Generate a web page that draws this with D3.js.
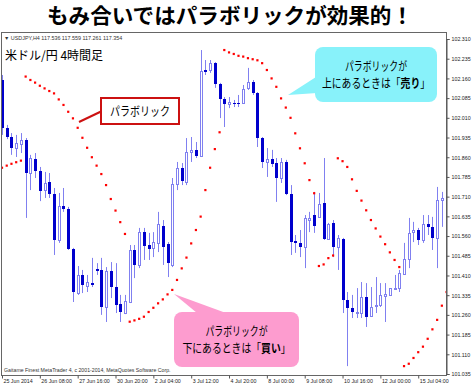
<!DOCTYPE html>
<html>
<head>
<meta charset="utf-8">
<script src="https://cdn.jsdelivr.net/npm/d3@7"></script>
<style>
  body { margin: 0; background: #fff; }
  svg { display: block; }
  .jp { font-family: "Noto Sans CJK JP", sans-serif; }
  .tick text { font-family: "Liberation Sans", Arial, sans-serif; font-size: 5.3px; fill: #222; }
  .tick line { stroke: #555; }
</style>
</head>
<body>
<svg id="chart" width="475" height="386"></svg>
<script>
// USDJPY H4 candles (one value per bar)
const open = [102.154, 101.971, 101.937, 101.895, 101.910, 101.926, 101.800, 101.853, 101.808, 101.735,
  101.766, 101.720, 101.545, 101.674, 101.663, 101.511, 101.343, 101.412, 101.370, 101.381,
  101.435, 101.431, 101.290, 101.427, 101.366, 101.301, 101.267, 101.309, 101.507, 101.450,
  101.575, 101.526, 101.515, 101.534, 101.598, 101.530, 101.450, 101.758, 101.819, 101.766,
  101.880, 101.888, 101.865, 102.192, 102.192, 102.219, 102.139, 102.082, 102.063, 102.066,
  102.066, 102.066, 102.124, 102.146, 102.104, 101.933, 101.842, 101.853, 101.838, 101.781,
  101.842, 101.720, 101.541, 101.534, 101.518, 101.621, 101.640, 101.633, 101.686, 101.549,
  101.610, 101.518, 101.549, 101.317, 101.286, 101.267, 101.267, 101.328, 101.256, 101.294,
  101.298, 101.332, 101.336, 101.359, 101.362, 101.416, 101.473, 101.575, 101.583, 101.545,
  101.606, 101.595, 101.553, 101.697, 101.701];
const high = [102.173, 101.983, 101.952, 101.945, 101.952, 101.933, 101.869, 101.876, 101.823, 101.804,
  101.800, 101.743, 101.724, 101.743, 101.671, 101.515, 101.446, 101.431, 101.412, 101.477,
  101.457, 101.477, 101.442, 101.461, 101.457, 101.336, 101.336, 101.526, 101.526, 101.591,
  101.591, 101.572, 101.575, 101.652, 101.621, 101.537, 101.781, 101.842, 101.838, 101.933,
  101.937, 101.918, 102.268, 102.230, 102.230, 102.222, 102.143, 102.089, 102.089, 102.078,
  102.097, 102.135, 102.200, 102.154, 102.108, 101.937, 101.895, 101.888, 101.857, 101.857,
  101.850, 101.754, 101.564, 101.583, 101.640, 101.652, 101.728, 101.724, 101.857, 101.610,
  101.621, 101.564, 101.553, 101.347, 101.336, 101.362, 101.385, 101.381, 101.366, 101.404,
  101.381, 101.381, 101.362, 101.412, 101.431, 101.534, 101.629, 101.614, 101.591, 101.640,
  101.640, 101.633, 101.747, 101.728, 101.709];
const low = [101.945, 101.929, 101.869, 101.861, 101.876, 101.629, 101.735, 101.781, 101.693, 101.705,
  101.705, 101.488, 101.534, 101.652, 101.507, 101.309, 101.336, 101.343, 101.347, 101.366,
  101.412, 101.260, 101.233, 101.324, 101.267, 101.233, 101.263, 101.305, 101.400, 101.438,
  101.469, 101.469, 101.480, 101.499, 101.450, 101.404, 101.442, 101.735, 101.754, 101.754,
  101.842, 101.857, 101.861, 102.173, 102.181, 102.124, 102.009, 101.975, 102.047, 102.051,
  102.051, 102.063, 102.116, 102.097, 101.899, 101.819, 101.785, 101.823, 101.690, 101.762,
  101.716, 101.488, 101.496, 101.480, 101.438, 101.575, 101.572, 101.629, 101.545, 101.545,
  101.480, 101.431, 101.267, 101.065, 101.248, 101.248, 101.248, 101.214, 101.252, 101.267,
  101.290, 101.233, 101.332, 101.355, 101.347, 101.412, 101.438, 101.537, 101.526, 101.534,
  101.564, 101.507, 101.438, 101.595, 101.652];
const close = [101.971, 101.937, 101.895, 101.914, 101.926, 101.800, 101.857, 101.808, 101.732, 101.762,
  101.720, 101.545, 101.674, 101.663, 101.511, 101.347, 101.412, 101.374, 101.385, 101.374,
  101.427, 101.290, 101.427, 101.366, 101.298, 101.271, 101.313, 101.507, 101.450, 101.575,
  101.522, 101.511, 101.537, 101.606, 101.518, 101.457, 101.758, 101.819, 101.770, 101.880,
  101.888, 101.865, 102.188, 102.184, 102.219, 102.139, 102.082, 102.063, 102.070, 102.063,
  102.063, 102.120, 102.146, 102.104, 101.933, 101.842, 101.853, 101.834, 101.781, 101.842,
  101.720, 101.537, 101.534, 101.518, 101.629, 101.629, 101.598, 101.682, 101.549, 101.606,
  101.518, 101.553, 101.317, 101.286, 101.271, 101.271, 101.328, 101.252, 101.290, 101.298,
  101.336, 101.340, 101.362, 101.362, 101.419, 101.473, 101.572, 101.583, 101.545, 101.606,
  101.595, 101.553, 101.697, 101.705, 101.663];
// Parabolic SAR, one dot per bar
const sar = [101.820, 101.828, 101.835, 101.841, 101.847, 102.167, 102.154, 102.144, 102.132, 102.122,
  102.112, 102.103, 102.080, 102.059, 102.033, 102.008, 101.972, 101.934, 101.896, 101.860,
  101.828, 101.796, 101.754, 101.701, 101.657, 101.613, 101.568, 101.234, 101.239, 101.245,
  101.253, 101.271, 101.287, 101.304, 101.319, 101.338, 101.355, 101.393, 101.437, 101.478,
  101.532, 101.583, 101.634, 101.735, 101.820, 101.891, 101.955, 102.268, 102.259, 102.253,
  102.246, 102.243, 102.237, 102.233, 102.229, 102.218, 102.192, 102.160, 102.128, 102.084,
  102.049, 102.010, 101.951, 101.894, 101.837, 101.773, 101.723, 101.446, 101.452, 101.476,
  101.486, 101.856, 101.845, 101.823, 101.776, 101.732, 101.695, 101.658, 101.621, 101.589,
  101.558, 101.529, 101.498, 101.469, 101.442, 101.065, 101.074, 101.096, 101.118, 101.139,
  101.169, 101.205, 101.241, 101.295, 101.347];

const priceTicks = [102.310, 102.235, 102.160, 102.085, 102.010, 101.935, 101.860, 101.785, 101.710,
  101.635, 101.560, 101.485, 101.410, 101.335, 101.260, 101.185, 101.110, 101.035];
const dateTickBars = [0, 8, 16, 24, 32, 40, 48, 56, 64, 72, 80, 88];
const dateTicks = ['25 Jun 2014', '26 Jun 08:00', '27 Jun 16:00', '30 Jun 20:00', '2 Jul 04:00', '3 Jul 12:00',
  '4 Jul 20:00', '8 Jul 00:00', '9 Jul 08:00', '10 Jul 16:00', '12 Jul 00:00', '15 Jul 04:00'];

const plotLeft = 1.5, plotRight = 446.5, plotTop = 32.5, plotBottom = 375.5;
const wickColor = '#8080f0';
const bearColor = '#0000cc';

const svg = d3.select('#chart');

const bars = d3.range(open.length);
const x = d3.scalePoint()
  .domain(bars)
  .range([2, 446.6]);

const y = d3.scaleLinear()
  .domain([101.035, 102.310])
  .range([374, 39]);

// title
svg.append('text')
  .attr('class', 'jp')
  .attr('x', 47).attr('y', 22.5)
  .attr('textLength', 366)
  .attr('lengthAdjust', 'spacingAndGlyphs')
  .style('font-size', '21px')
  .style('font-weight', 'bold')
  .text('もみ合いではパラボリックが効果的！');

// frame
svg.append('rect')
  .attr('x', plotLeft).attr('y', plotTop)
  .attr('width', plotRight - plotLeft).attr('height', plotBottom - plotTop)
  .attr('fill', '#fff')
  .attr('stroke', '#666');

svg.append('defs').append('clipPath').attr('id', 'plot')
  .append('rect')
  .attr('x', plotLeft + 0.5).attr('y', plotTop + 0.5)
  .attr('width', plotRight - plotLeft - 1).attr('height', plotBottom - plotTop - 1);

const plot = svg.append('g').attr('clip-path', 'url(#plot)');

// wicks
plot.append('g')
  .selectAll('line')
  .data(bars)
  .enter()
  .append('line')
  .attr('x1', (i) => Math.round(x(i)) + 0.5)
  .attr('x2', (i) => Math.round(x(i)) + 0.5)
  .attr('y1', (i) => y(high[i]))
  .attr('y2', (i) => y(low[i]))
  .attr('stroke', wickColor)
  .attr('stroke-width', 1);

// bodies
plot.append('g')
  .selectAll('rect')
  .data(bars)
  .enter()
  .append('rect')
  .attr('x', (i) => close[i] >= open[i] ? Math.round(x(i)) - 0.5 : Math.round(x(i)) - 1)
  .attr('width', (i) => close[i] >= open[i] ? 2 : 3)
  .attr('y', (i) => {
    const t = y(Math.max(open[i], close[i]));
    return close[i] >= open[i] ? Math.round(t) + 0.5 : Math.round(t);
  })
  .attr('height', (i) => Math.max(1, Math.round(Math.abs(y(open[i]) - y(close[i])))))
  .attr('fill', (i) => close[i] >= open[i] ? '#fff' : bearColor)
  .attr('stroke', (i) => close[i] >= open[i] ? wickColor : 'none')
  .attr('stroke-width', 1);

// parabolic SAR dots
plot.append('g')
  .selectAll('rect')
  .data(bars)
  .enter()
  .append('rect')
  .attr('x', (i) => x(i) - 1.1)
  .attr('y', (i) => y(sar[i]) - 1.1)
  .attr('width', 2.2)
  .attr('height', 2.2)
  .attr('fill', '#ff0000');

// axes
const rightAxis = d3.axisRight(y)
  .tickValues(priceTicks)
  .tickSize(3)
  .tickFormat(d3.format('.3f'));
svg.append('g')
  .attr('transform', `translate(${plotRight}, 0)`)
  .call(rightAxis)
  .call((g) => g.select('.domain').attr('stroke', '#555'))
  .selectAll('text').attr('x', 5).attr('dy', '0.35em');

const bottomAxis = d3.axisBottom(x)
  .tickValues(dateTickBars)
  .tickSize(3)
  .tickFormat((d, i) => dateTicks[i]);
svg.append('g')
  .attr('transform', `translate(0, ${plotBottom})`)
  .call(bottomAxis)
  .call((g) => g.select('.domain').remove())
  .selectAll('text')
  .attr('text-anchor', 'start')
  .attr('x', 1)
  .attr('y', 4)
  .attr('dy', '0.71em');

// chart header and footer
svg.append('text')
  .attr('x', 4).attr('y', 39.5)
  .style('font-family', 'Liberation Sans, Arial, sans-serif')
  .style('font-size', '5.4px')
  .attr('fill', '#333')
  .text('▼ USDJPY,H4  117.536 117.559 117.261 117.354');

svg.append('text')
  .attr('x', 4).attr('y', 371.5)
  .style('font-family', 'Liberation Sans, Arial, sans-serif')
  .style('font-size', '5.2px')
  .attr('fill', '#333')
  .text('Gaitame Finest MetaTrader 4, c 2001-2014, MetaQuotes Software Corp.');

svg.append('text')
  .attr('class', 'jp')
  .attr('x', 5).attr('y', 60)
  .style('font-size', '12px')
  .text('米ドル/円 4時間足');

// red label
svg.append('line')
  .attr('x1', 79).attr('y1', 122).attr('x2', 101).attr('y2', 111.5)
  .attr('stroke', '#cc1111').attr('stroke-width', 2);
svg.append('rect')
  .attr('x', 101).attr('y', 98)
  .attr('width', 78).attr('height', 26)
  .attr('fill', '#fff')
  .attr('stroke', '#cc1111').attr('stroke-width', 2);
svg.append('text')
  .attr('class', 'jp')
  .attr('x', 110).attr('y', 116)
  .attr('textLength', 60)
  .attr('lengthAdjust', 'spacingAndGlyphs')
  .style('font-size', '12px')
  .text('パラボリック');

// callouts: squeeze each line horizontally, as the source font is narrow
function callout(box, tail, fill, line1, line2, bold) {
  const g = svg.append('g');
  g.append('path').attr('d', d3.line()(tail) + 'Z').attr('fill', fill);
  g.append('rect')
    .attr('x', box.x).attr('y', box.y)
    .attr('width', box.w).attr('height', box.h)
    .attr('rx', 8).attr('fill', fill);
  const cx = box.x + box.w / 2;
  g.append('g')
    .attr('transform', `translate(${cx}, ${box.y + 24}) scale(0.74, 1)`)
    .append('text')
    .attr('class', 'jp')
    .attr('text-anchor', 'middle')
    .style('font-size', '12px')
    .text(line1);
  const t = g.append('g')
    .attr('transform', `translate(${cx}, ${box.y + 41}) scale(0.82, 1)`)
    .append('text')
    .attr('class', 'jp')
    .attr('text-anchor', 'middle')
    .style('font-size', '12px');
  t.append('tspan').text(line2);
  t.append('tspan').style('font-weight', 'bold').text(bold);
  t.append('tspan').text('」');
}

callout({ x: 315, y: 47, w: 122, h: 55 },
  [[316, 77], [288, 95], [317, 93]],
  '#88f2fa', 'パラボリックが', '上にあるときは「', '売り');

callout({ x: 174, y: 312, w: 125, h: 55 },
  [[197, 313], [174, 294], [226, 313]],
  '#fd9ccf', 'パラボリックが', '下にあるときは「', '買い');
</script>
</body>
</html>
